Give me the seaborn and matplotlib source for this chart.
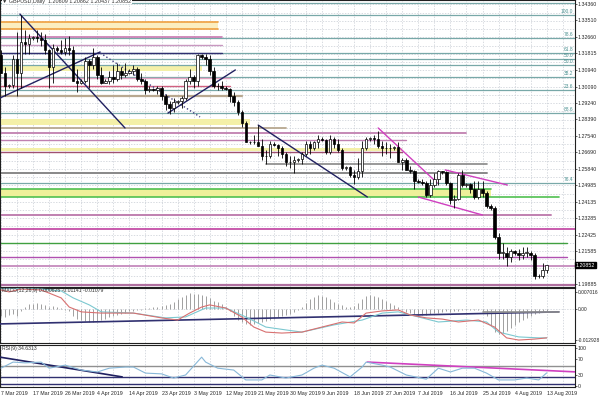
import numpy as np
import matplotlib.pyplot as plt
import seaborn as sns

# GBPUSD daily bars (MT4 style, Sunday bars included), 7 Mar - 13 Aug 2019
opens = [1.3170, 1.3080, 1.3010, 1.3015, 1.3150, 1.3080, 1.3240, 1.3230,
         1.3260, 1.3265, 1.3260, 1.3250, 1.3200, 1.3110, 1.3210, 1.3200,
         1.3190, 1.3210, 1.3200, 1.3040, 1.3030, 1.3040, 1.3140, 1.3120,
         1.3160, 1.3070, 1.3030, 1.3040, 1.3060, 1.3050, 1.3090, 1.3070,
         1.3080, 1.3090, 1.3100, 1.3050, 1.3040, 1.2990, 1.2995, 1.2990,
         1.3000, 1.2960, 1.2920, 1.2900, 1.2930, 1.2935, 1.2950, 1.3040,
         1.3060, 1.3040, 1.3170, 1.3160, 1.3150, 1.3090, 1.3010, 1.3010,
         1.3000, 1.2995, 1.2960, 1.2930, 1.2880, 1.2820, 1.2720, 1.2725,
         1.2720, 1.2700, 1.2650, 1.2650, 1.2710, 1.2705, 1.2690, 1.2660,
         1.2620, 1.2620, 1.2630, 1.2635, 1.2660, 1.2710, 1.2690, 1.2720,
         1.2740, 1.2735, 1.2670, 1.2740, 1.2710, 1.2680, 1.2590, 1.2595,
         1.2550, 1.2540, 1.2570, 1.2690, 1.2740, 1.2745, 1.2740, 1.2700,
         1.2690, 1.2690, 1.2690, 1.2695, 1.2620, 1.2630, 1.2580, 1.2570,
         1.2520, 1.2515, 1.2510, 1.2450, 1.2500, 1.2530, 1.2570, 1.2565,
         1.2510, 1.2420, 1.2430, 1.2550, 1.2500, 1.2505, 1.2480, 1.2440,
         1.2480, 1.2460, 1.2390, 1.2380, 1.2230, 1.2150, 1.2150, 1.2130,
         1.2160, 1.2150, 1.2140, 1.2150, 1.2150, 1.2140, 1.2030, 1.2030,
         1.2061]
highs = [1.3200, 1.3110, 1.3020, 1.3170, 1.3290, 1.3380, 1.3300, 1.3280,
         1.3270, 1.3300, 1.3290, 1.3280, 1.3205, 1.3230, 1.3220, 1.3250,
         1.3260, 1.3270, 1.3220, 1.3100, 1.3050, 1.3160, 1.3150, 1.3210,
         1.3170, 1.3110, 1.3050, 1.3090, 1.3120, 1.3130, 1.3110, 1.3130,
         1.3100, 1.3120, 1.3110, 1.3080, 1.3050, 1.3010, 1.3000, 1.3010,
         1.3010, 1.2970, 1.2935, 1.2950, 1.2940, 1.2960, 1.3050, 1.3100,
         1.3070, 1.3180, 1.3180, 1.3180, 1.3170, 1.3110, 1.3030, 1.3040,
         1.3010, 1.3000, 1.2980, 1.2940, 1.2890, 1.2830, 1.2730, 1.2760,
         1.2810, 1.2740, 1.2680, 1.2730, 1.2720, 1.2710, 1.2700, 1.2670,
         1.2650, 1.2650, 1.2640, 1.2670, 1.2730, 1.2730, 1.2730, 1.2760,
         1.2750, 1.2740, 1.2760, 1.2750, 1.2740, 1.2690, 1.2600, 1.2600,
         1.2580, 1.2640, 1.2730, 1.2750, 1.2750, 1.2760, 1.2780, 1.2730,
         1.2720, 1.2710, 1.2700, 1.2720, 1.2640, 1.2640, 1.2600, 1.2580,
         1.2530, 1.2530, 1.2520, 1.2530, 1.2560, 1.2580, 1.2575, 1.2570,
         1.2515, 1.2450, 1.2560, 1.2580, 1.2510, 1.2510, 1.2520, 1.2520,
         1.2520, 1.2470, 1.2400, 1.2390, 1.2250, 1.2200, 1.2180, 1.2170,
         1.2165, 1.2170, 1.2180, 1.2180, 1.2160, 1.2150, 1.2040, 1.2095,
         1.2086]
lows = [1.3080, 1.2960, 1.3000, 1.3000, 1.2960, 1.3000, 1.3180, 1.3180,
        1.3250, 1.3240, 1.3220, 1.3180, 1.3000, 1.3030, 1.3190, 1.3180,
        1.3170, 1.3170, 1.3040, 1.2980, 1.3020, 1.3030, 1.3000, 1.3100,
        1.3050, 1.3020, 1.3025, 1.3020, 1.3030, 1.3040, 1.3050, 1.3060,
        1.3075, 1.3070, 1.3040, 1.3020, 1.2970, 1.2980, 1.2985, 1.2970,
        1.2940, 1.2890, 1.2865, 1.2880, 1.2920, 1.2900, 1.2940, 1.3020,
        1.3000, 1.3010, 1.3150, 1.3120, 1.3070, 1.3000, 1.2990, 1.2990,
        1.2990, 1.2930, 1.2910, 1.2860, 1.2800, 1.2720, 1.2710, 1.2710,
        1.2700, 1.2630, 1.2610, 1.2640, 1.2700, 1.2650, 1.2640, 1.2600,
        1.2590, 1.2560, 1.2620, 1.2610, 1.2650, 1.2660, 1.2680, 1.2690,
        1.2730, 1.2660, 1.2660, 1.2690, 1.2670, 1.2580, 1.2580, 1.2540,
        1.2505, 1.2530, 1.2540, 1.2680, 1.2730, 1.2710, 1.2690, 1.2650,
        1.2660, 1.2640, 1.2680, 1.2620, 1.2580, 1.2580, 1.2560, 1.2480,
        1.2510, 1.2500, 1.2440, 1.2440, 1.2490, 1.2500, 1.2555, 1.2500,
        1.2400, 1.2380, 1.2420, 1.2490, 1.2490, 1.2460, 1.2430, 1.2430,
        1.2440, 1.2380, 1.2370, 1.2220, 1.2120, 1.2120, 1.2080, 1.2100,
        1.2140, 1.2110, 1.2120, 1.2130, 1.2110, 1.2015, 1.2020, 1.2020,
        1.2044]
closes = [1.3080, 1.3010, 1.3015, 1.3150, 1.3080, 1.3240, 1.3230, 1.3260,
          1.3265, 1.3260, 1.3250, 1.3200, 1.3110, 1.3210, 1.3200, 1.3190,
          1.3210, 1.3200, 1.3040, 1.3030, 1.3040, 1.3140, 1.3120, 1.3160,
          1.3070, 1.3030, 1.3040, 1.3060, 1.3050, 1.3090, 1.3070, 1.3080,
          1.3090, 1.3100, 1.3050, 1.3040, 1.2990, 1.2995, 1.2990, 1.3000,
          1.2960, 1.2920, 1.2900, 1.2930, 1.2935, 1.2950, 1.3040, 1.3060,
          1.3040, 1.3170, 1.3160, 1.3150, 1.3090, 1.3010, 1.3010, 1.3000,
          1.2995, 1.2960, 1.2930, 1.2880, 1.2820, 1.2720, 1.2725, 1.2720,
          1.2700, 1.2650, 1.2650, 1.2710, 1.2705, 1.2690, 1.2660, 1.2620,
          1.2620, 1.2630, 1.2635, 1.2660, 1.2710, 1.2690, 1.2720, 1.2740,
          1.2735, 1.2670, 1.2740, 1.2710, 1.2680, 1.2590, 1.2595, 1.2550,
          1.2540, 1.2570, 1.2690, 1.2740, 1.2745, 1.2740, 1.2700, 1.2690,
          1.2690, 1.2690, 1.2695, 1.2620, 1.2630, 1.2580, 1.2570, 1.2520,
          1.2515, 1.2510, 1.2450, 1.2500, 1.2530, 1.2570, 1.2565, 1.2510,
          1.2420, 1.2430, 1.2550, 1.2500, 1.2505, 1.2480, 1.2440, 1.2480,
          1.2460, 1.2390, 1.2380, 1.2230, 1.2150, 1.2150, 1.2130, 1.2160,
          1.2150, 1.2140, 1.2150, 1.2150, 1.2140, 1.2030, 1.2030, 1.2060,
          1.2085]

# MACD histogram per bar
macd_hist = [-0.0030, -0.0035, -0.0025, -0.0020, -0.0030, -0.0010, 0.0010, 0.0020,
             0.0020, 0.0025, 0.0022, 0.0015, 0.0008, 0.0012, 0.0010, 0.0005,
             -0.0005, -0.0010, -0.0030, -0.0040, -0.0045, -0.0050, -0.0055, -0.0052,
             -0.0050, -0.0045, -0.0040, -0.0035, -0.0030, -0.0025, -0.0020, -0.0015,
             -0.0010, -0.0008, -0.0005, -0.0003, 0.0003, 0.0005, 0.0008, 0.0010,
             0.0012, 0.0015, 0.0020, 0.0030, 0.0040, 0.0050, 0.0060, 0.0066,
             0.0064, 0.0062, 0.0058, 0.0052, 0.0045, 0.0035, 0.0028, 0.0020,
             0.0010, -0.0010, -0.0030, -0.0045, -0.0055, -0.0062, -0.0066, -0.0064,
             -0.0060, -0.0055, -0.0050, -0.0045, -0.0040, -0.0035, -0.0030, -0.0025,
             -0.0020, -0.0012, -0.0005, 0.0010, 0.0025, 0.0040, 0.0050, 0.0058,
             0.0056, 0.0050, 0.0040, 0.0030, 0.0022, 0.0015, 0.0010, 0.0008,
             0.0012, 0.0025, 0.0040, 0.0055, 0.0058, 0.0055, 0.0048, 0.0040,
             0.0032, 0.0025, 0.0018, 0.0010, -0.0005, -0.0012, -0.0018, -0.0022,
             -0.0025, -0.0025, -0.0023, -0.0020, -0.0018, -0.0015, -0.0012, -0.0010,
             -0.0012, -0.0010, -0.0008, -0.0006, -0.0005, -0.0004, -0.0003, -0.0003,
             -0.0010, -0.0030, -0.0070, -0.0095, -0.0102, -0.0100, -0.0090, -0.0078,
             -0.0066, -0.0055, -0.0045, -0.0037, -0.0030, -0.0022, -0.0016, -0.0012,
             -0.0008]

# MACD lines (read at selected bars)
red_bars = [0, 2, 5, 10, 12, 15, 17, 20, 25, 33, 40, 44, 47, 50, 52, 56, 60, 63, 66, 70,
            75, 80, 85, 88, 91, 95, 99, 102, 106, 110, 114, 119, 123, 126, 129, 133, 136]
red_vals = [0.0079, 0.0071, 0.0083, 0.0079, 0.0066, 0.0046, 0.0008, -0.0012, -0.0017,
            -0.0017, -0.0037, -0.0046, -0.0017, 0.0008, 0.0017, 0.0004, -0.0033, -0.0075,
            -0.0096, -0.0100, -0.0096, -0.0075, -0.0054, -0.0058, -0.0017, -0.0008,
            -0.0004, -0.0025, -0.0037, -0.0042, -0.0054, -0.0046, -0.0075, -0.0120,
            -0.0129, -0.0125, -0.0120]
teal_bars = [0, 10, 15, 18, 22, 25, 33, 41, 46, 51, 56, 61, 66, 71, 75, 83, 90, 95, 99,
             104, 109, 116, 121, 124, 129, 134, 136]
teal_vals = [0.0087, 0.0083, 0.0075, 0.0046, 0.0017, -0.0012, -0.0017, -0.0037, -0.0033,
             0.0004, 0.0004, -0.0033, -0.0075, -0.0087, -0.0096, -0.0066, -0.0046,
             -0.0017, -0.0012, -0.0033, -0.0054, -0.0046, -0.0054, -0.0096, -0.0116,
             -0.0120, -0.0120]

# RSI(9) (read at selected bars)
rsi_bars = [0, 3, 6, 10, 12, 16, 20, 24, 27, 31, 33, 36, 40, 43, 46, 50, 51, 54, 58, 61,
            65, 67, 71, 75, 78, 80, 83, 87, 90, 91, 95, 97, 101, 106, 109, 112, 115, 118,
            121, 124, 128, 131, 134, 136]
rsi_vals = [47, 63, 61, 63, 47, 55, 42, 37, 47, 50, 50, 34, 32, 21, 29, 76, 63, 47, 42, 16,
            16, 29, 21, 29, 47, 55, 47, 24, 50, 63, 55, 50, 29, 18, 47, 37, 47, 47,
            34, 16, 16, 21, 16, 34.6]

date_bars = [0, 8, 16, 24, 32, 40, 48, 56, 64, 72, 80, 88, 96, 104, 112, 120, 128, 136]
date_labels = ['7 Mar 2019', '17 Mar 2019', '26 Mar 2019', '4 Apr 2019', '14 Apr 2019',
               '23 Apr 2019', '3 May 2019', '12 May 2019', '21 May 2019', '30 May 2019',
               '9 Jun 2019', '18 Jun 2019', '27 Jun 2019', '7 Jul 2019', '16 Jul 2019',
               '25 Jul 2019', '4 Aug 2019', '13 Aug 2019']
price_ticks = [1.34360, 1.33510, 1.32660, 1.31815, 1.30940, 1.30090, 1.29240, 1.28390,
               1.27540, 1.26690, 1.25840, 1.24985, 1.24135, 1.23285, 1.22425, 1.21585,
               1.19885]
last_price = 1.20852

# fibonacci lines (price, label)
fib_prices = [1.3441, 1.3379, 1.3260, 1.3183, 1.3152, 1.3121, 1.3059, 1.2991, 1.2872, 1.2511]
fib_labels = ['', '100.0', '78.6', '61.8', '50.0', '50.0', '38.2', '23.6', '88.6', '76.4']

# horizontal levels (price, last bar, colour, width)
levels = [
    (1.3343, 54, '#f0a040', 1.2), (1.3307, 54, '#f0a040', 1.2),
    (1.3265, 55, '#c878b0', 1.2), (1.3224, 55, '#c898c0', 1.0),
    (1.3183, 55, '#303070', 1.0), (1.3053, 57, '#e0a0c0', 1.0),
    (1.3012, 57, '#d06080', 1.0), (1.2960, 60, '#b8a890', 1.6),
    (1.2795, 71, '#b8a890', 1.3), (1.2769, 116, '#c080b0', 1.3),
    (1.2733, 101, '#c080b0', 1.0), (1.2671, 100, '#a05070', 1.0),
    (1.2562, 121, '#888888', 1.4), (1.2479, 122, '#50c050', 1.2),
    (1.2438, 139, '#50c050', 1.2), (1.2345, 137, '#c080b0', 1.4),
    (1.2273, 144, '#c040a0', 1.2), (1.2200, 141, '#40a040', 1.0),
    (1.2128, 141, '#b050b0', 1.0), (1.2081, 144, '#c080b8', 1.2),
    (1.1983, 144, '#b070a0', 1.6),
]
# shaded zones (low, high, last bar, colour)
zones = [(1.3307, 1.3343, 54, '#fbeec0'), (1.3090, 1.3121, 50, '#f4f0a8'),
         (1.2810, 1.2841, 62, '#f4f0a8'), (1.2677, 1.2691, 100, '#f4f0a8'),
         (1.2438, 1.2479, 122, '#eef09a')]
# short gray level (price, first bar, last bar)
gray_seg = (1.2609, 66, 121)

# drawn trend lines (bar0, price0, bar1, price1, colour, style)
trend_lines = [
    (4.7, 1.3384, 30.9, 1.2795, '#202060', '-'),
    (-0.25, 1.2950, 24.7, 1.3188, '#202060', '-'),
    (24.7, 1.3183, 49.6, 1.2852, '#404080', ':'),
    (41.6, 1.2872, 58.4, 1.3095, '#202060', '-'),
    (64.1, 1.2810, 91.3, 1.2438, '#202060', '-'),
    (94.0, 1.2795, 108.7, 1.2511, '#d040c0', '-'),
    (110.7, 1.2578, 126.2, 1.2500, '#d040c0', '-'),
    (104.0, 1.2438, 120.0, 1.2345, '#d040c0', '-'),
]
macd_trend = (-0.25, -0.0062, 139.0, -0.0012)
rsi_trend_navy = (-0.25, 76, 30.2, 24)
rsi_trend_mag = (91.3, 63, 143.6, 37)
rsi_levels = [52, 24, 5]

sns.set_style('white')
plt.rcParams['font.family'] = ['Liberation Sans', 'DejaVu Sans']

fig = plt.figure(figsize=(6, 4), dpi=100)
fig.patch.set_facecolor('white')
right = 0.958
ax_p = fig.add_axes([0.0, 0.2825, right, 0.7175])
ax_m = fig.add_axes([0.0, 0.1425, right, 0.1375])
ax_r = fig.add_axes([0.0, 0.0325, right, 0.105])

bars = np.arange(len(closes))
o = np.array(opens)
c = np.array(closes)
xlim = (-0.25, 143.0)
grid_kw = dict(color='#c8ccd4', lw=0.5, ls=(0, (2, 2)))
lab_fs = 3.8

for ax in (ax_p, ax_m, ax_r):
    ax.set_xlim(*xlim)
    for b in range(0, 144, 4):
        ax.axvline(b, zorder=0, **grid_kw)
    ax.yaxis.tick_right()
    ax.tick_params(axis='y', labelsize=lab_fs, length=1.5, pad=0.6, width=0.5)
    ax.tick_params(axis='x', length=2, width=0.5)
    for s in ax.spines.values():
        s.set_linewidth(0.8)
        s.set_color('#202020')
    ax.set_xticks([])
ax_m.tick_params(axis='y', labelsize=3.5)

# ---- price panel
ax_p.set_ylim(1.19727, 1.34567)
for g in np.arange(1.19885, 1.347, 0.00425):
    ax_p.axhline(g, zorder=0, **grid_kw)
ax_p.set_yticks(price_ticks)
ax_p.set_yticklabels(['%.5f' % t for t in price_ticks])

for lo, hi, end, col in zones:
    ax_p.fill_between([xlim[0], end], lo, hi, color=col, lw=0, zorder=1)
for f, lab in zip(fib_prices, fib_labels):
    ax_p.axhline(f, color='#78a8a8', lw=0.9, zorder=1)
    ax_p.text(142.6, f + 0.0004, lab, fontsize=3.5, color='#4a9090', ha='right', va='bottom')
for price, end, col, lw in levels:
    ax_p.plot([xlim[0], end], [price, price], color=col, lw=lw, zorder=2)
ax_p.plot([gray_seg[1], gray_seg[2]], [gray_seg[0]] * 2, color='#888888', lw=1.2, zorder=2)
for b0, p0, b1, p1, col, ls in trend_lines:
    ax_p.plot([b0, b1], [p0, p1], color=col, lw=1.0, ls=ls, zorder=3)

# candles
ax_p.vlines(bars, lows, highs, color='black', lw=0.6, zorder=4)
body_lo = np.minimum(o, c)
body_h = np.maximum(np.abs(c - o), 0.00012)
faces = ['white' if cc >= oo else 'black' for oo, cc in zip(o, c)]
ax_p.bar(bars, body_h, bottom=body_lo, width=0.62, color=faces,
         edgecolor='black', linewidth=0.5, zorder=5)

ax_p.text(0.3, 1.3449, '\u25bc GBPUSD,Daily  1.20609 1.20862 1.20437 1.20852',
          fontsize=3.9, color='#303030', va='center', ha='left', zorder=6,
          bbox=dict(facecolor='white', edgecolor='none', pad=0.3))
ax_p.text(1.002, last_price, '%.5f' % last_price, transform=ax_p.get_yaxis_transform(),
          fontsize=lab_fs, color='white', va='center', ha='left',
          bbox=dict(facecolor='black', edgecolor='black', pad=0.5))

# ---- MACD panel
ax_m.set_ylim(-0.01413, 0.00872)
ax_m.axhline(0, zorder=0, **grid_kw)
ax_m.vlines(bars, 0, macd_hist, color='#a0a0a0', lw=0.7, zorder=2)
ax_m.plot([macd_trend[0], macd_trend[2]], [macd_trend[1], macd_trend[3]],
          color='#303070', lw=1.2, zorder=3)
ax_m.plot([120, 139], [-0.0012, -0.0012], color='#909090', lw=1.2, zorder=3)
sns.lineplot(x=teal_bars, y=teal_vals, ax=ax_m, color='#7cc8d0', lw=0.8, zorder=4)
sns.lineplot(x=red_bars, y=red_vals, ax=ax_m, color='#d87070', lw=0.8, zorder=4)
ax_m.set_yticks([0.007016, 0.0, -0.012928])
ax_m.set_yticklabels(['0.007016', '0.00', '-0.012928'])
ax_m.set_xlabel('')
ax_m.set_ylabel('')
ax_m.text(0.3, 0.0076, 'MACD(12,26,9) 0.000625 -0.01141 -0.01079', fontsize=3.7,
          color='#303030', va='center', ha='left', zorder=6)

# ---- RSI panel
ax_r.set_ylim(-2.6, 108)
ax_r.axhline(rsi_levels[0], color='#909090', lw=1.0, zorder=1)
for lv in rsi_levels[1:]:
    ax_r.axhline(lv, color='#303070', lw=1.0, zorder=1)
ax_r.plot([rsi_trend_navy[0], rsi_trend_navy[2]], [rsi_trend_navy[1], rsi_trend_navy[3]],
          color='#202060', lw=1.2, zorder=3)
ax_r.plot([rsi_trend_mag[0], rsi_trend_mag[2]], [rsi_trend_mag[1], rsi_trend_mag[3]],
          color='#d040c0', lw=1.2, zorder=3)
sns.lineplot(x=rsi_bars, y=rsi_vals, ax=ax_r, color='#88b8d8', lw=0.8, zorder=4)
ax_r.set_yticks([100, 70, 30, 0])
ax_r.set_yticklabels(['100', '70', '30', '0'])
ax_r.set_xlabel('')
ax_r.set_ylabel('')
ax_r.text(0.3, 99, 'RSI(9) 34.6313', fontsize=3.7, color='#303030', va='center', ha='left')

ax_r.set_xticks(date_bars)
ax_r.set_xticklabels(date_labels, fontsize=3.8, ha='left')
ax_r.tick_params(axis='x', pad=1.2)
ax_r.set_xlim(*xlim)

fig.savefig('out.png', dpi=100, facecolor='white')
